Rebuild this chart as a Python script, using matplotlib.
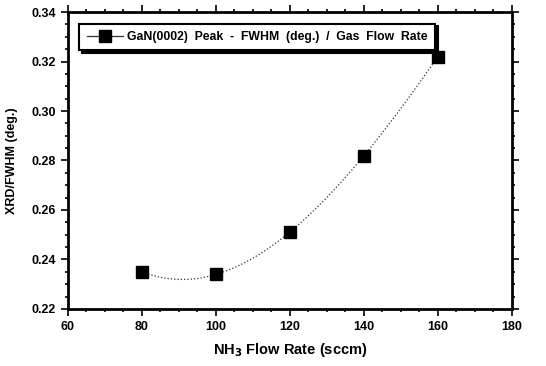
import matplotlib.pyplot as plt
import numpy as np
from matplotlib.ticker import MultipleLocator

# NH3 flow rate vs XRD FWHM
flow = [80, 100, 120, 140, 160]
fwhm = [0.235, 0.234, 0.251, 0.282, 0.322]

plt.rcParams['font.family'] = ['Liberation Sans', 'DejaVu Sans']
plt.rcParams['font.weight'] = 'bold'

fig = plt.figure(figsize=(5.46, 3.66), dpi=100)
ax = fig.add_axes([0.1245, 0.156, 0.813, 0.811])

# smooth fit curve through the points
coef = np.polyfit(flow, fwhm, 3)
xs = np.linspace(flow[0], flow[-1], 200)
ax.plot(xs, np.polyval(coef, xs), color='#333333', lw=0.9, ls=':')
ax.plot(flow, fwhm, ls='none', marker='s', ms=9, color='black')

# legend handle with line + marker
h, = ax.plot([], [], color='#333333', lw=0.9, ls='-', marker='s', ms=9, mfc='black', mec='black')
leg = ax.legend([h], ['GaN(0002)  Peak  -  FWHM  (deg.)  /  Gas  Flow  Rate'],
                loc='upper left', bbox_to_anchor=(0.012, 0.982), fontsize=8.8,
                frameon=True, fancybox=False, shadow={'color': 'black', 'alpha': 1},
                handlelength=3.0, borderpad=0.6, handletextpad=0.3)
leg.get_frame().set_edgecolor('black')
leg.get_frame().set_linewidth(1.5)

ax.set_xlim(60, 180)
ax.set_ylim(0.22, 0.34)
ax.xaxis.set_major_locator(MultipleLocator(20))
ax.xaxis.set_minor_locator(MultipleLocator(5))
ax.yaxis.set_major_locator(MultipleLocator(0.02))
ax.yaxis.set_minor_locator(MultipleLocator(0.005))
ax.yaxis.set_major_formatter(plt.FormatStrFormatter('%.2f'))

ax.tick_params(which='both', direction='out', top=True, right=True,
               labeltop=False, labelright=False, labelsize=9, width=1.2)
ax.tick_params(which='major', length=5)
ax.tick_params(which='minor', length=2.5)
for s in ax.spines.values():
    s.set_linewidth(2)

ax.set_xlabel('NH$_3$ Flow Rate (sccm)', fontsize=10.5, fontweight='bold', labelpad=6)
ax.set_ylabel('XRD/FWHM (deg.)', fontsize=9, fontweight='bold', labelpad=10)

fig.savefig('out.png', dpi=100)
